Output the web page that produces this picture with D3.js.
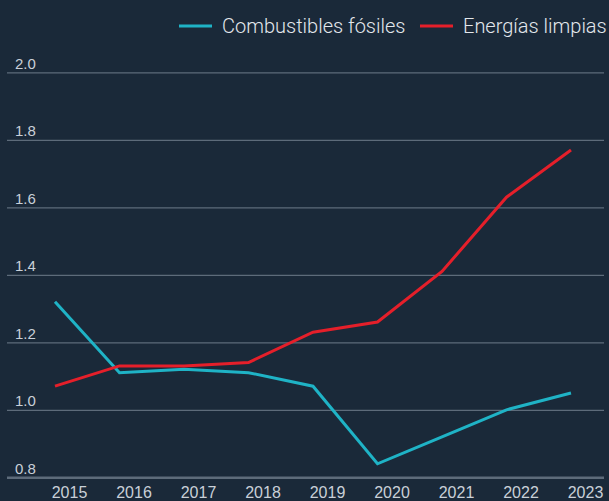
<!DOCTYPE html>
<html>
<head>
<meta charset="utf-8">
<script src="https://cdn.jsdelivr.net/npm/d3@7"></script>
<style>
  body { margin: 0; background: #1a2939; }
  svg { display: block; font-family: Roboto, sans-serif; font-weight: 300; }
</style>
</head>
<body>
<svg></svg>
<script>
// data
let years = [2015, 2016, 2017, 2018, 2019, 2020, 2021, 2022, 2023]
let fosiles = [1.32, 1.11, 1.12, 1.11, 1.07, 0.84, 0.92, 1.00, 1.05]
let limpias = [1.07, 1.13, 1.13, 1.14, 1.23, 1.26, 1.41, 1.63, 1.77]
let yTicks = [0.8, 1.0, 1.2, 1.4, 1.6, 1.8, 2.0]
let seriesNames = ['Combustibles fósiles', 'Energías limpias']
let colors = ['#1fb3c6', '#e51f2a']

let width = 609
let height = 501

let svg = d3.select('svg')
    .attr('width', width)
    .attr('height', height)

svg.append('rect')
    .attr('width', width)
    .attr('height', height)
    .attr('fill', '#1a2939')

let xScale = d3.scaleLinear()
    .domain([2015, 2023])
    .range([55, 571])

let yScale = d3.scaleLinear()
    .domain([0.8, 2.0])
    .range([477.3, 72.3])

// grid lines with the labels sitting above them
let yAxis = d3.axisRight(yScale)
    .tickValues(yTicks)
    .tickSize(597)
    .tickFormat(d3.format('.1f'))

let gy = svg.append('g')
    .attr('transform', 'translate(7,0)')
    .call(yAxis)
gy.select('.domain').remove()
gy.selectAll('.tick line')
    .attr('stroke', '#5d6b7a')
    .attr('stroke-width', (d) => d === 0.8 ? 2.5 : 1.2)
gy.selectAll('.tick text')
    .attr('x', 8)
    .attr('dy', -4)
    .attr('fill', '#c9d0d8')
    .attr('font-size', 15)

// x labels, shifted right of the points like the original
let xAxis = d3.axisBottom(xScale)
    .tickValues(years)
    .tickSize(0)
    .tickFormat(d3.format('d'))

let gx = svg.append('g')
    .attr('transform', 'translate(14,' + 484 + ')')
    .call(xAxis)
gx.select('.domain').remove()
gx.selectAll('.tick text')
    .attr('fill', '#c9d0d8')
    .attr('font-size', 16)
    .attr('dy', '0.71em')

let line = d3.line()
    .x((d, i) => xScale(years[i]))
    .y((d) => yScale(d))

let series = [fosiles, limpias]
svg.selectAll('.serie')
    .data(series)
    .enter()
    .append('path')
    .attr('class', 'serie')
    .attr('d', (d) => line(d))
    .attr('fill', 'none')
    .attr('stroke', (d, i) => colors[i])
    .attr('stroke-width', 3)
    .attr('stroke-linejoin', 'miter')

// legend top right
let legendX = [179, 420]
let legend = svg.selectAll('.leg')
    .data(seriesNames)
    .enter()
    .append('g')
    .attr('class', 'leg')
    .attr('transform', (d, i) => 'translate(' + legendX[i] + ',26)')
legend.append('line')
    .attr('x1', 0)
    .attr('x2', 33)
    .attr('stroke', (d, i) => colors[i])
    .attr('stroke-width', 3)
legend.append('text')
    .attr('x', 43)
    .attr('y', 7)
    .attr('fill', '#e3e7ec')
    .attr('font-size', 20)
    .text((d) => d)
</script>
</body>
</html>
